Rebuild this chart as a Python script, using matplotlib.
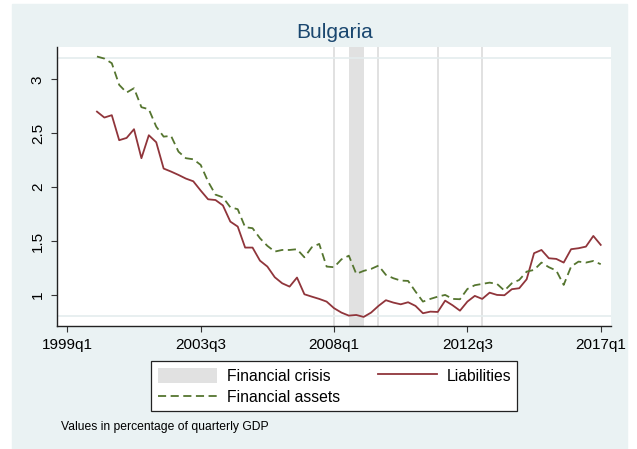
import matplotlib
matplotlib.use('Agg')
import matplotlib.pyplot as plt
from matplotlib.patches import Rectangle, Patch
from matplotlib.lines import Line2D
import numpy as np

plt.rcParams['font.family'] = ['Liberation Sans', 'DejaVu Sans']

# quarters counted from 1999q1 = 0; data runs 2000q1 .. 2017q1
first_quarter = 4
liabilities = [
    2.70, 2.645, 2.667, 2.435, 2.456, 2.537, 2.268, 2.481, 2.416, 2.172,
    2.144, 2.113, 2.079, 2.054, 1.968, 1.887, 1.88, 1.83, 1.68, 1.634,
    1.439, 1.439, 1.318, 1.263, 1.164, 1.108, 1.077, 1.161, 1.006, 0.984,
    0.963, 0.938, 0.877, 0.836, 0.808, 0.814, 0.796, 0.836, 0.898, 0.951,
    0.929, 0.913, 0.932, 0.898, 0.830, 0.845, 0.842, 0.947, 0.904, 0.854,
    0.938, 0.991, 0.963, 1.021, 1.000, 0.997, 1.053, 1.062, 1.145, 1.387,
    1.417, 1.340, 1.334, 1.300, 1.424, 1.433, 1.448, 1.547, 1.464,
]
financial_assets = [
    3.211, 3.192, 3.149, 2.948, 2.877, 2.917, 2.741, 2.722, 2.561, 2.468,
    2.475, 2.329, 2.268, 2.258, 2.206, 2.051, 1.93, 1.905, 1.813, 1.795,
    1.628, 1.619, 1.526, 1.455, 1.402, 1.417, 1.417, 1.424, 1.349, 1.442,
    1.473, 1.263, 1.257, 1.33, 1.364, 1.195, 1.223, 1.241, 1.272, 1.186,
    1.155, 1.133, 1.130, 1.031, 0.938, 0.963, 0.984, 1.000, 0.963, 0.960,
    1.055, 1.09, 1.102, 1.114, 1.102, 1.040, 1.108, 1.139, 1.216, 1.232,
    1.300, 1.257, 1.226, 1.093, 1.263, 1.309, 1.300, 1.315, 1.285,
]
quarters = np.arange(first_quarter, first_quarter + len(liabilities))

# crisis shading and marker lines (quarters since 1999q1)
crisis_span = (38, 40)
event_lines = [36, 42, 50, 56]

x_ticks = [0, 18, 36, 54, 72]
x_labels = ['1999q1', '2003q3', '2008q1', '2012q3', '2017q1']
y_ticks = [1, 1.5, 2, 2.5, 3]
y_labels = ['1', '1.5', '2', '2.5', '3']

bg = '#EAF2F3'
red = '#90353B'
green = '#55752F'

fig = plt.figure(figsize=(6.37, 4.49), dpi=100)
fig.patch.set_facecolor('white')
fig.patches.append(Rectangle((12 / 637, 0), 615 / 637, 1 - 4 / 449,
                             transform=fig.transFigure, color=bg, zorder=-10))

ax = fig.add_axes([0.090, 0.274, 0.869, 0.621])
ax.set_facecolor('white')

ax.axvspan(crisis_span[0], crisis_span[1], color='#E1E1E1', lw=0, zorder=1)
for q in event_lines:
    ax.axvline(q, color='#D9D9D9', lw=1.1, zorder=1)
for yv in [0.8, 3.2]:
    ax.axhline(yv, color='#E4ECEE', lw=1.2, zorder=1)

ax.plot(quarters, liabilities, color=red, lw=1.3, zorder=3)
ax.plot(quarters, financial_assets, color=green, lw=1.3, dashes=(4.5, 2.5), zorder=3)

ax.set_xlim(-1.35, 73.37)
ax.set_ylim(0.712, 3.298)

ax.set_xticks(x_ticks)
ax.set_xticklabels(x_labels, fontsize=11)
ax.set_yticks(y_ticks)
ax.set_yticklabels(y_labels, fontsize=11, rotation=90, va='center')
ax.tick_params(axis='both', length=4, width=0.8, color='#333333', direction='out')
ax.tick_params(axis='x', pad=5)
ax.tick_params(axis='y', pad=5)

for side in ['top', 'right']:
    ax.spines[side].set_visible(False)
for side in ['left', 'bottom']:
    ax.spines[side].set_color('#222222')
    ax.spines[side].set_linewidth(1.0)

fig.text(0.525, 0.927, 'Bulgaria', ha='center', va='center', fontsize=15, color='#1A476F')

handles = [
    Patch(facecolor='#E1E1E1', edgecolor='none', label='Financial crisis'),
    Line2D([], [], color=green, lw=1.3, dashes=(4.5, 2.5), label='Financial assets'),
    Line2D([], [], color=red, lw=1.3, label='Liabilities'),
]
leg = fig.legend(handles=handles, loc='upper center', bbox_to_anchor=(0.525, 0.195),
                 ncol=2, fontsize=11.3, frameon=True, fancybox=False,
                 edgecolor='#222222', facecolor='white', framealpha=1,
                 handlelength=3.8, handleheight=1.1, handletextpad=0.6,
                 columnspacing=2.4, labelspacing=0.35, borderpad=0.4,
                 borderaxespad=0)
leg.get_frame().set_linewidth(0.9)

fig.text(61 / 637, 1 - 427 / 449, 'Values in percentage of quarterly GDP',
         ha='left', va='center', fontsize=8.7)

fig.savefig('out.png', dpi=100)
